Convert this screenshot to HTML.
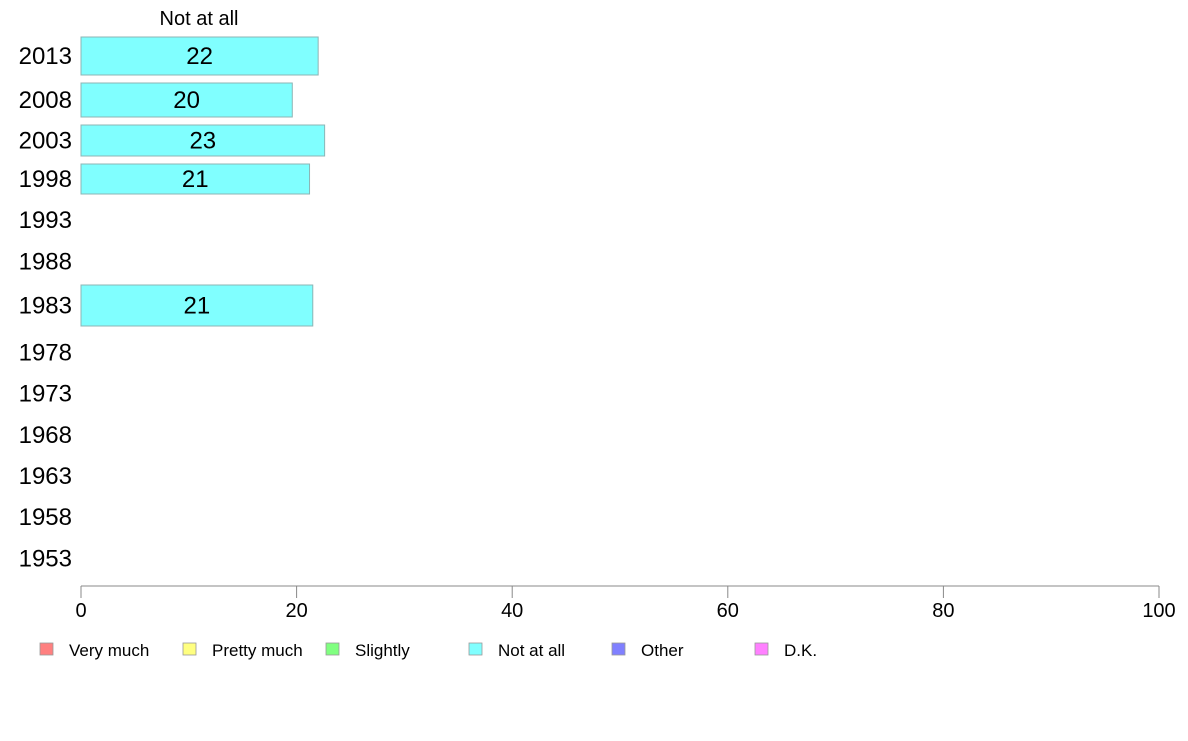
<!DOCTYPE html>
<html><head><meta charset="utf-8"><style>
body{margin:0;background:#fff;}
svg text{font-family:"Liberation Sans",Arial,sans-serif;}
</style></head><body>
<svg id="chart" width="1188" height="736" xmlns="http://www.w3.org/2000/svg"></svg>
<script>
const years = ["2013","2008","2003","1998","1993","1988","1983","1978","1973","1968","1963","1958","1953"];
const values = [22, 19.6, 22.6, 21.2, null, null, 21.5, null, null, null, null, null, null];
const valueLabels = ["22","20","23","21","","","21","","","","","",""];
const xTicks = [0,20,40,60,80,100];
const legendNames = ["Very much","Pretty much","Slightly","Not at all","Other","D.K."];
const legendColors = ["#ff8080","#ffff80","#80ff80","#80ffff","#8080ff","#ff80ff"];

// layout (not data): row geometry
const rowTop = [37,83,125,164,203,244,285,333,374,415,456,497,538];
const rowBot = [75,117,156,194,237,279,326,372,413,455,496,537,579];
const svg = document.getElementById('chart');
const NS = "http://www.w3.org/2000/svg";
const x0 = 81, x1 = 1159;
const xs = v => x0 + (x1 - x0) * v / 100;
function mk(tag, attrs, text){
  const e = document.createElementNS(NS, tag);
  for (const k in attrs) e.setAttribute(k, attrs[k]);
  if (text !== undefined) e.textContent = text;
  svg.appendChild(e); return e;
}
const t = mk('text',{x:199,y:25,'font-size':20,'text-anchor':'middle'},'Not at all');


years.forEach((y,i)=>{
  const cy = (rowTop[i]+rowBot[i])/2;
  const yl = mk('text',{x:72,y:cy+8,'font-size':24,'text-anchor':'end'},y);
  
  
  if (values[i] != null){
    const r = mk('rect',{x:x0,y:rowTop[i],width:xs(values[i])-x0,height:rowBot[i]-rowTop[i],fill:'#80ffff',stroke:'#8cb4b4','stroke-width':1});
    
    
    const vl = mk('text',{x:(x0+xs(values[i]))/2,y:cy+8,'font-size':24,'text-anchor':'middle'},valueLabels[i]);
    
    
  }
});
const ax = mk('line',{x1:x0,x2:x1,y1:586,y2:586,stroke:'#888','stroke-width':1});


xTicks.forEach(v=>{
  const tk = mk('line',{x1:xs(v),x2:xs(v),y1:586,y2:598,stroke:'#888','stroke-width':1});
  
  
  const tl = mk('text',{x:xs(v),y:617,'font-size':20,'text-anchor':'middle'},String(v));
  
  
});
legendNames.forEach((n,i)=>{
  const lx = 40 + i*143;
  const sw = mk('rect',{x:lx,y:643,width:13,height:12,fill:legendColors[i],stroke:'#999','stroke-width':0.8});
  
  
  const lt = mk('text',{x:lx+29,y:656,'font-size':17},n);
  
  
});
</script>
</body></html>
